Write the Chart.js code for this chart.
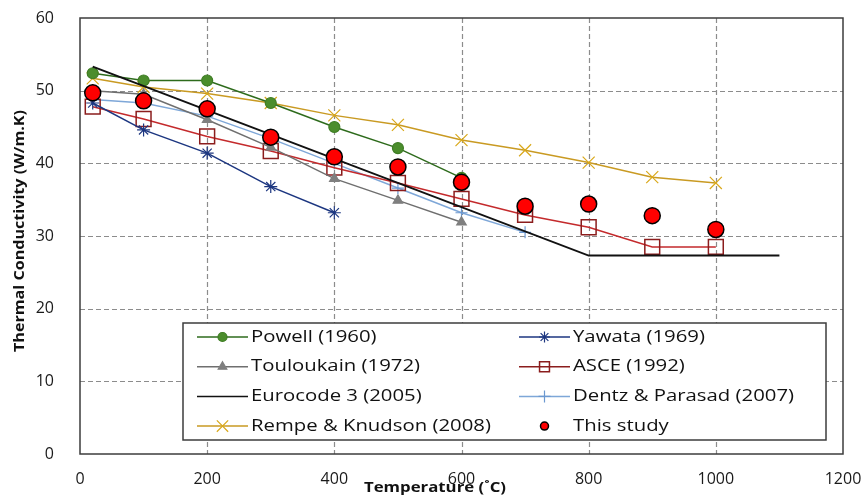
<!DOCTYPE html>
<html>
<head>
<meta charset="utf-8">
<script src="https://cdn.jsdelivr.net/npm/chart.js@4.4.1/dist/chart.umd.min.js"></script>
<style>
  html, body { margin: 0; background: #fff; }
  canvas { display: block; }
</style>
</head>
<body>
<canvas id="chart" width="863" height="500"></canvas>
<script>
// temperatures (°C) shared by the measured series
const temps = [20, 100, 200, 300, 400, 500, 600, 700, 800, 900, 1000];

// thermal conductivity (W/m.K) per source
const powell = [52.4, 51.4, 51.4, 48.3, 45.0, 42.1, 38.0];
const yawata = [48.3, 44.6, 41.4, 36.8, 33.2];
const touloukain = [50.0, 49.5, 46.0, 42.2, 37.9, 34.9, 31.9];
const asce = [47.8, 46.1, 43.7, 41.7, 39.4, 37.3, 35.1, 32.9, 31.2, 28.5, 28.5];
const eurocodeTemps = [20, 800, 1100];
const eurocode = [53.3, 27.3, 27.3];
const dentz = [48.8, 48.3, 46.5, 43.4, 40.0, 36.6, 33.2, 30.5];
const rempe = [51.7, 50.5, 49.6, 48.3, 46.6, 45.3, 43.2, 41.8, 40.1, 38.1, 37.3];
const thisStudy = [49.7, 48.6, 47.5, 43.6, 40.9, 39.5, 37.4, 34.1, 34.4, 32.8, 30.9];

const xTicks = [0, 200, 400, 600, 800, 1000, 1200];
const yTicks = [0, 10, 20, 30, 40, 50, 60];

const pts = (xs, ys) => ys.map((y, i) => ({ x: xs[i], y }));

function series(label, data, color, style, extra) {
  return Object.assign({
    label,
    data,
    borderColor: color,
    backgroundColor: color,
    borderWidth: 1.5,
    pointStyle: style,
    pointBackgroundColor: color,
    pointBorderColor: color,
    pointBorderWidth: 1.2,
    pointRadius: 5,
    pointHoverRadius: 5,
    tension: 0,
  }, extra);
}

const datasets = [
  series("Powell (1960)", pts(temps, powell), "#2e6b1c", "circle",
    { pointBackgroundColor: "#4b8d2c", pointBorderColor: "#3f7d25", pointRadius: 5.5, legendRadius: 4.5, order: 2 }),
  series("Yawata (1969)", pts(temps, yawata), "#1c3680", "star",
    { pointRadius: 6.5, legendRadius: 5.5, order: 3 }),
  series("Touloukain (1972)", pts(temps, touloukain), "#6f6f6f", "triangle",
    { pointBackgroundColor: "#7f7f7f", pointBorderColor: "#7f7f7f", pointRadius: 5.5, legendRadius: 5, order: 4 }),
  series("ASCE (1992)", pts(temps, asce), "#c42a2c", "rect",
    { pointBackgroundColor: "rgba(0,0,0,0)", pointBorderColor: "#8b1d1d", pointBorderWidth: 1.5,
      pointRadius: 10.5, legendRadius: 7, legendLine: "#8b1d1d", order: 5 }),
  series("Eurocode 3 (2005)", pts(eurocodeTemps, eurocode), "#111111", false,
    { borderWidth: 2, pointRadius: 0, legendRadius: 0, legendWidth: 1.5, order: 1 }),
  series("Dentz & Parasad (2007)", pts(temps, dentz), "#7ea7d8", "cross",
    { pointBorderColor: "#6b98d0", pointRadius: 6, legendRadius: 6, order: 6 }),
  series("Rempe & Knudson (2008)", pts(temps, rempe), "#c99a22", "crossRot",
    { pointBorderColor: "#d9a81a", pointRadius: 8.5, legendRadius: 8, order: 7 }),
  series("This study", pts(temps, thisStudy), "#ff0000", "circle",
    { showLine: false, pointBackgroundColor: "#ff0000", pointBorderColor: "#000000",
      pointBorderWidth: 1.5, pointRadius: 8, legendRadius: 4, order: 0 }),
];

// draws text squeezed/stretched horizontally to a given width
function fitText(ctx, text, width) {
  const k = width / ctx.measureText(text).width;
  ctx.scale(k, 1);
  ctx.fillText(text, 0, 0);
}

// dashed grid on every tick plus a solid box around the plot area
const plotFrame = {
  id: "plotFrame",
  beforeDatasetsDraw(chart) {
    const { ctx, chartArea: a, scales } = chart;
    ctx.save();
    ctx.strokeStyle = "#8c8c8c";
    ctx.lineWidth = 1.2;
    ctx.setLineDash([5, 3]);
    ctx.beginPath();
    xTicks.slice(1, -1).forEach((v) => {
      const px = Math.round(scales.x.getPixelForValue(v)) + 0.5;
      ctx.moveTo(px, a.top);
      ctx.lineTo(px, a.bottom);
    });
    yTicks.slice(1, -1).forEach((v) => {
      const py = Math.round(scales.y.getPixelForValue(v)) + 0.5;
      ctx.moveTo(a.left, py);
      ctx.lineTo(a.right, py);
    });
    ctx.stroke();
    ctx.setLineDash([]);
    ctx.strokeStyle = "#3c3c3c";
    ctx.lineWidth = 1.5;
    ctx.strokeRect(a.left, a.top, a.right - a.left, a.bottom - a.top);
    ctx.restore();
  },
};

const axisTitles = {
  id: "axisTitles",
  afterDraw(chart) {
    const ctx = chart.ctx;
    ctx.save();
    ctx.fillStyle = "#111";
    ctx.font = 'bold 14px "Open Sans"';
    ctx.textAlign = "center";
    ctx.textBaseline = "middle";
    ctx.save();
    ctx.translate(435, 488);
    fitText(ctx, "Temperature (˚C)", 142);
    ctx.restore();
    ctx.save();
    ctx.translate(20, 231);
    ctx.rotate(-Math.PI / 2);
    fitText(ctx, "Thermal Conductivity (W/m.K)", 242);
    ctx.restore();
    ctx.restore();
  },
};

const boxLegend = {
  id: "boxLegend",
  afterDraw(chart) {
    const ctx = chart.ctx;
    const left = 183, top = 323, w = 643, h = 117;
    ctx.save();
    ctx.fillStyle = "#fff";
    ctx.fillRect(left, top, w, h);
    ctx.strokeStyle = "#3c3c3c";
    ctx.lineWidth = 1.5;
    ctx.strokeRect(left, top, w, h);

    chart.data.datasets.forEach((ds, i) => {
      const x0 = 197 + (i % 2) * 322;
      const y = 337 + Math.floor(i / 2) * 29.7;
      if (ds.showLine !== false) {
        ctx.strokeStyle = ds.legendLine || ds.borderColor;
        ctx.lineWidth = ds.legendWidth || ds.borderWidth;
        ctx.beginPath();
        ctx.moveTo(x0, y);
        ctx.lineTo(x0 + 51, y);
        ctx.stroke();
      }
      if (ds.pointStyle && ds.legendRadius > 0) {
        ctx.fillStyle = ds.pointBackgroundColor;
        ctx.strokeStyle = ds.pointBorderColor;
        ctx.lineWidth = ds.pointBorderWidth;
        Chart.helpers.drawPoint(ctx, {
          pointStyle: ds.pointStyle,
          radius: ds.legendRadius,
          borderWidth: ds.pointBorderWidth,
          rotation: 0,
        }, x0 + 25.5, y);
      }
      ctx.save();
      ctx.fillStyle = "#111";
      ctx.font = '16px "Open Sans"';
      ctx.textBaseline = "middle";
      ctx.translate(x0 + 54, y);
      ctx.scale(1.27, 1);
      ctx.fillText(ds.label, 0, 0);
      ctx.restore();
    });
    ctx.restore();
  },
};

const tickFont = { family: "Open Sans", size: 16 };

// keep edge tick labels from pushing the plot area inwards
function noOverhang(s) {
  s.paddingLeft = 0;
  s.paddingRight = 0;
  s.paddingTop = 0;
  s.paddingBottom = 0;
}

new Chart(document.getElementById("chart"), {
  type: "line",
  data: { datasets },
  plugins: [plotFrame, axisTitles, boxLegend],
  options: {
    responsive: false,
    animation: false,
    events: [],
    layout: { padding: { left: 0, right: 20, top: 18, bottom: 0 } },
    plugins: { legend: { display: false }, tooltip: { enabled: false } },
    scales: {
      x: {
        type: "linear",
        min: xTicks[0],
        max: xTicks[xTicks.length - 1],
        afterBuildTicks: (s) => { s.ticks = xTicks.map((v) => ({ value: v })); },
        afterFit: (s) => { s.height = 46; noOverhang(s); },
        grid: { display: false },
        border: { display: false },
        ticks: { color: "#1a1a1a", font: tickFont, padding: 8, maxRotation: 0, callback: (v) => String(v) },
      },
      y: {
        min: yTicks[0],
        max: yTicks[yTicks.length - 1],
        afterBuildTicks: (s) => { s.ticks = yTicks.map((v) => ({ value: v })); },
        afterFit: (s) => { s.width = 80; noOverhang(s); },
        grid: { display: false },
        border: { display: false },
        ticks: { color: "#1a1a1a", font: tickFont, padding: 18, callback: (v) => String(v) },
      },
    },
  },
});
</script>
</body>
</html>
